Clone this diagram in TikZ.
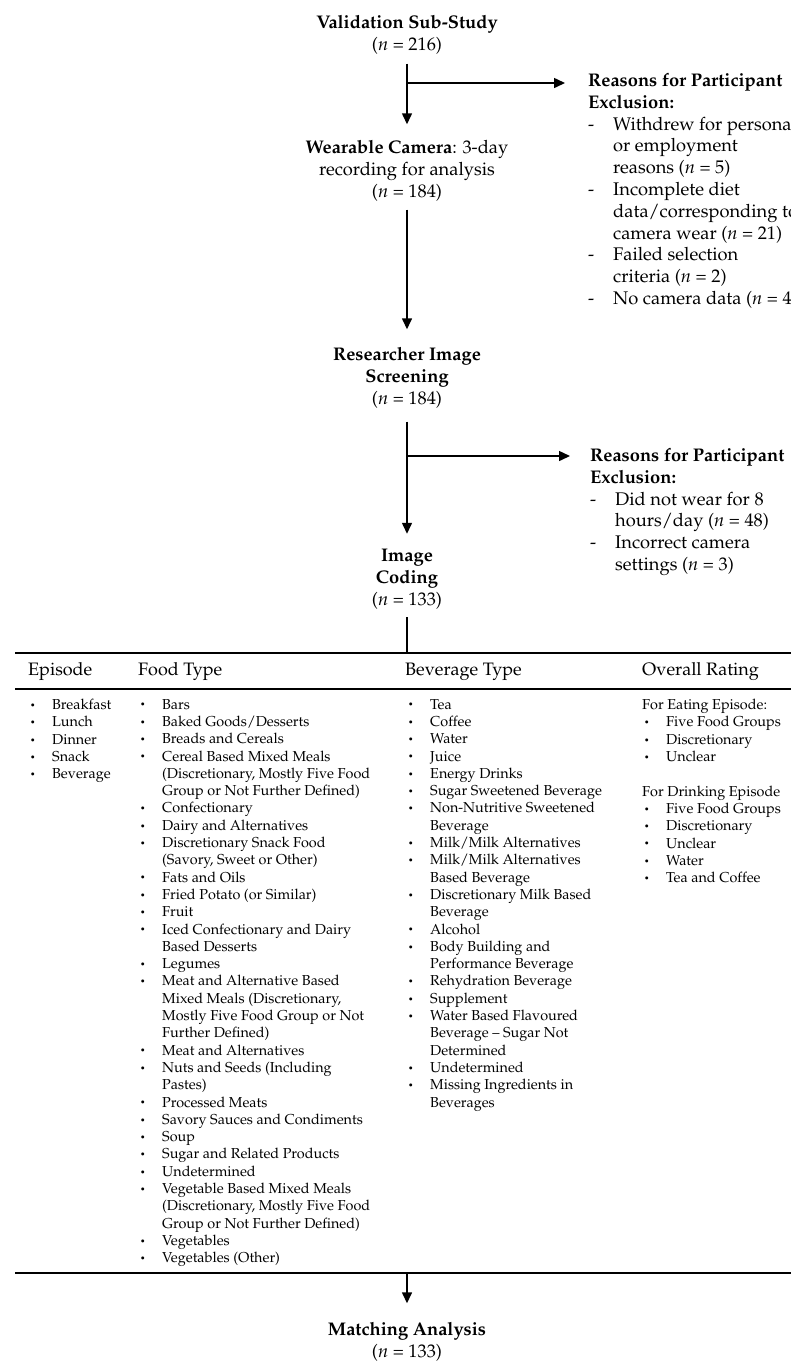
\documentclass[tikz,border=0pt]{standalone}
\usepackage[T1]{fontenc}
\usepackage{mathpazo}
\usetikzlibrary{arrows.meta,positioning}
\tikzset{>={Triangle[length=11pt,width=10pt]}}
\tikzset{
	stage/.style={font=\fontsize{18.3}{22}\selectfont, align=center, inner sep=0pt},
	reasons/.style={font=\fontsize{18.3}{21.8}\selectfont, align=left, inner sep=0pt, anchor=north west},
	colhead/.style={font=\fontsize{18}{21}\selectfont, inner sep=0pt, anchor=west},
	collist/.style={font=\fontsize{14.4}{17.3}\selectfont, align=left, inner sep=0pt, anchor=north west},
	flow/.style={line width=1.5pt},
	tablerule/.style={line width=1.4pt}
}
\newcommand{\itm}{\makebox[22pt][l]{\raisebox{1.2pt}{\scalebox{0.62}{\textbullet}}}}
\newcommand{\cnt}{\makebox[22pt]{}}
\newcommand{\dsh}{\makebox[25pt][l]{-}}
\newcommand{\cnd}{\makebox[25pt]{}}

\begin{document}
\begin{tikzpicture}[x=1pt,y=-1pt]
		\clip (0,0) rectangle (791,1361);
		\node[stage] (valid) at (407,35) {\textbf{Validation Sub-Study}\\(\textit{n} = 216)};
		\node[stage] (camera) at (407,171) {\textbf{Wearable Camera}: 3-day\\recording for analysis\\(\textit{n} = 184)};
		\node[stage] (screen) at (407,378) {\textbf{Researcher Image}\\\textbf{Screening}\\(\textit{n} = 184)};
		\node[stage] (coding) at (407,579) {\textbf{Image}\\\textbf{Coding}\\(\textit{n} = 133)};
		\node[stage] (match) at (407,1342) {\textbf{Matching Analysis}\\(\textit{n} = 133)};
		\node[reasons] (excl1) at (588,73) {\textbf{Reasons for Participant}\\\textbf{Exclusion:}\\
			\dsh Withdrew for personal\\\cnd or employment\\\cnd reasons (\textit{n} = 5)\\
			\dsh Incomplete diet\\\cnd data/corresponding to\\\cnd camera wear (\textit{n} = 21)\\
			\dsh Failed selection\\\cnd criteria (\textit{n} = 2)\\
			\dsh No camera data (\textit{n} = 4)};
		\node[reasons] (excl2) at (590,448) {\textbf{Reasons for Participant}\\\textbf{Exclusion:}\\
			\dsh Did not wear for 8\\\cnd hours/day (\textit{n} = 48)\\
			\dsh Incorrect camera\\\cnd settings (\textit{n} = 3)};

		\coordinate (fork1) at (407,83);
		\coordinate (tip1) at (565,83);
		\coordinate (fork2) at (407,456);
		\coordinate (tip2) at (570,456);
		\coordinate (hubtop) at (407,653);
		\coordinate (hubbot) at (407,1273);
		\draw[flow,->,shorten <=9pt,shorten >=16pt] (valid) -- (camera);
		\draw[flow,->] (fork1) -- (tip1);
		\draw[flow,->,shorten <=8pt,shorten >=18pt] (camera) -- (screen);
		\draw[flow,->,shorten <=13pt,shorten >=15pt] (screen) -- (coding);
		\draw[flow,->] (fork2) -- (tip2);
		\draw[flow,shorten <=8pt] (coding) -- (hubtop);
		\draw[flow,->,shorten >=19pt] (hubbot) -- (match);

		\draw[tablerule] (15,653) -- (800,653);
		\draw[tablerule] (15,689) -- (800,689);
		\draw[tablerule] (15,1273) -- (800,1273);
		\node[colhead] (hepisode) at (28,672) {Episode};
		\node[colhead] (hfood) at (138,672) {Food Type};
		\node[colhead] (hbev) at (405,672) {Beverage Type};
		\node[colhead] (hrating) at (642,672) {Overall Rating};
		\node[collist] (episodes) at (30,699) {\itm Breakfast\\\itm Lunch\\\itm Dinner\\\itm Snack\\\itm Beverage};
		\node[collist] (foods) at (140,699) {\itm Bars\\\itm Baked Goods/Desserts\\\itm Breads and Cereals\\
			\itm Cereal Based Mixed Meals\\\cnt (Discretionary, Mostly Five Food\\\cnt Group or Not Further Defined)\\
			\itm Confectionary\\\itm Dairy and Alternatives\\\itm Discretionary Snack Food\\\cnt (Savory, Sweet or Other)\\
			\itm Fats and Oils\\\itm Fried Potato (or Similar)\\\itm Fruit\\
			\itm Iced Confectionary and Dairy\\\cnt Based Desserts\\\itm Legumes\\
			\itm Meat and Alternative Based\\\cnt Mixed Meals (Discretionary,\\\cnt Mostly Five Food Group or Not\\\cnt Further Defined)\\
			\itm Meat and Alternatives\\\itm Nuts and Seeds (Including\\\cnt Pastes)\\
			\itm Processed Meats\\\itm Savory Sauces and Condiments\\\itm Soup\\\itm Sugar and Related Products\\\itm Undetermined\\
			\itm Vegetable Based Mixed Meals\\\cnt (Discretionary, Mostly Five Food\\\cnt Group or Not Further Defined)\\
			\itm Vegetables\\\itm Vegetables (Other)};
		\node[collist] (beverages) at (408,699) {\itm Tea\\\itm Coffee\\\itm Water\\\itm Juice\\\itm Energy Drinks\\
			\itm Sugar Sweetened Beverage\\\itm Non-Nutritive Sweetened\\\cnt Beverage\\\itm Milk/Milk Alternatives\\
			\itm Milk/Milk Alternatives\\\cnt Based Beverage\\\itm Discretionary Milk Based\\\cnt Beverage\\\itm Alcohol\\
			\itm Body Building and\\\cnt Performance Beverage\\\itm Rehydration Beverage\\\itm Supplement\\
			\itm Water Based Flavoured\\\cnt Beverage -- Sugar Not\\\cnt Determined\\\itm Undetermined\\
			\itm Missing Ingredients in\\\cnt Beverages};
		\node[collist] (ratings) at (642,699) {For Eating Episode:\\\kern2pt\itm Five Food Groups\\\kern2pt\itm Discretionary\\\kern2pt\itm Unclear\\[17.3pt]
			For Drinking Episode\\\kern2pt\itm Five Food Groups\\\kern2pt\itm Discretionary\\\kern2pt\itm Unclear\\\kern2pt\itm Water\\\kern2pt\itm Tea and Coffee};
	\end{tikzpicture}
\end{document}
